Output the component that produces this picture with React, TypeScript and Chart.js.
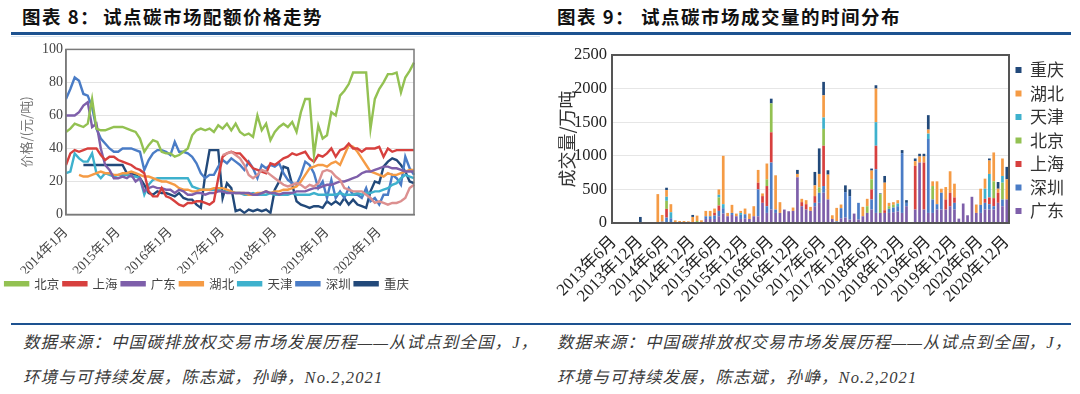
import React, { useEffect, useRef } from 'react';
import { Chart, registerables } from 'chart.js';

Chart.register(...registerables);

// ---------- helpers for category labels ----------
function monthRange(startYear: number, startMonth: number, count: number): string[] {
  const out: string[] = [];
  for (let k = 0; k < count; k++) {
    const m = startMonth - 1 + k;
    out.push(`${startYear + Math.floor(m / 12)}年${(m % 12) + 1}月`);
  }
  return out;
}

// ---------- Figure 8: allowance prices (元/吨), monthly 2014-01 .. 2020-09 ----------
const PRICE_MONTHS = monthRange(2014, 1, 81);
const PRICE_BEIJING = [50,52,55,54,53,55,70,52,51,51, 52,53,53,53,52,51,50,46,38,42, 45,44,38,37,37,35,36,38,40,48, 51,52,51,52,50,54,52,55,51,55, 50,48,49,47,60,51,55,45,50,53, 55,53,56,50,62,70,70,36,54,46, 48,62,60,72,75,79,86,86,86,86, 52,70,76,80,85,85,86,74,83,87, 92];
const PRICE_SHANGHAI = [30,37,39,38,39,40,40,40,36,33, 35,35,33,32,31,30,28,27,25,14, 11,11,16,11,10,8,6,5,7,7, 8,8,7,6,8,22,35,37,38,37, 37,34,31,28,27,26,25,31,30,32, 34,35,37,36,37,38,34,32,36,35, 37,40,35,39,40,43,40,40,38,40, 40,40,41,35,40,38,39,39,39,39, 39];
const PRICE_GUANGDONG = [60,60,60,62,66,68,53,55,40,30, 27,22,22,23,22,24,20,22,14,16, 17,16,16,15,15,13,15,14,12,12, 13,13,12,13,13,14,14,13,13,13, 13,13,13,12,12,13,14,13,13,12, 13,13,13,14,14,14,15,16,16,17, 18,18,19,20,20,21,22,23,25,26, 26,27,28,29,29,28,28,27,26,26, 26];
const PRICE_HUBEI = [null,null,null,24,23,23,24,25,26,25, 25,24,24,25,25,26,25,24,23,23, 22,21,20,20,19,18,16,15,15,14, 14,15,15,15,16,16,16,15,14,13, 13,13,12,12,13,13,14,13,14,14, 15,15,16,17,20,24,28,29,30,30, 29,31,32,30,36,42,41,38,34,30, 26,25,24,23,25,24,24,25,26,27, 27];
const PRICE_TIANJIN = [25,26,37,34,32,32,37,25,22,25, 24,23,24,24,24,23,23,22,12,18, 21,22,22,22,22,22,22,22,22,17, 16,15,15,15,15,15,14,14,14,13, 13,12,12,13,12,12,12,13,12,12, 12,12,13,12,12,12,12,13,12,12, 12,12,12,13,12,12,12,13,12,13, 13,14,14,15,16,18,19,22,24,23, 22];
const PRICE_SHENZHEN = [70,76,83,81,73,72,65,52,46,43, 40,38,38,40,40,40,39,38,27,33, 37,39,39,38,36,44,38,38,37,35, 31,25,22,24,24,29,33,31,34,32, 30,27,32,28,22,30,28,30,29,31, 25,21,19,18,24,32,30,25,16,20, 10,21,10,14,10,16,12,12,10,16, 8,10,6,12,12,24,22,18,35,28, 24];
const PRICE_CHONGQING = [null,null,null,null,30,30,30,30,30,30, 30,30,30,30,25,25,24,22,18,13, 12,14,13,13,12,11,13,10,9,9, 6,4,24,39,39,39,10,19,16,2, 3,1,3,2,3,2,3,1,15,20, 29,28,18,8,6,5,4,5,5,4, 8,6,8,6,10,6,9,6,5,4, 14,20,19,29,32,34,33,30,26,20, 19];
const PRICE_OTHER = [null,null,null,null,null,null,null,null,null,null, null,null,null,null,null,null,null,null,null,null, null,null,null,null,null,null,null,null,null,null, null,null,null,null,null,null,36,37,38,36, 34,30,24,22,24,27,26,24,22,20, 18,17,18,19,18,16,18,17,19,26, 27,26,23,21,16,15,14,14,14,12, 10,7,8,7,6,7,7,8,10,16, 18];
const PRICE_Y_TICKS = [0, 20, 40, 60, 80, 100];

// ---------- Figure 9: trading volume (万吨), monthly 2013-06 .. 2020-12 ----------
const VOL_MONTHS = monthRange(2013, 6, 91);
const VOL_GUANGDONG = [0,0,0,0,0,0,0,0,0,0, 0,0,0,0,0,0,0,0,0,0, 0,60,60,60,100,140,100,120,100,60, 70,60,100,100,300,150,200,150,150,200, 175,180,680,250,200,180,250,300,450,350, 60,0,70,80,50,140,50,100,150,200, 150,150,150,150,160,170,150,250,0,200, 900,200,150,150,200,200,200,250,200,65, 290,115,390,150,150,200,200,200,300,250, 350];
const VOL_SHENZHEN = [0,0,0,0,0,0,0,0,0,0, 0,20,80,70,0,0,0,0,0,0, 0,40,40,50,80,80,0,30,0,60, 60,0,0,400,0,100,700,50,0,0, 0,0,0,0,0,0,50,150,100,0, 0,25,150,380,350,0,250,0,0,150, 650,0,0,60,70,80,890,50,0,0, 0,0,1100,200,80,250,0,0,100,0, 0,0,0,0,120,100,80,50,0,100, 0];
const VOL_SHANGHAI = [0,0,0,0,0,0,0,0,0,0, 0,0,130,0,0,0,0,0,0,0, 0,0,0,40,80,0,0,0,0,0, 0,0,0,100,100,300,450,0,0,0, 0,0,0,60,80,0,100,0,600,0, 0,0,0,0,0,0,0,0,0,150, 350,0,40,0,0,0,0,0,0,650, 0,700,0,0,0,0,150,200,80,0, 0,0,0,0,0,60,100,120,150,0, 0];
const VOL_BEIJING = [0,0,0,0,0,0,0,0,0,0, 0,0,120,0,0,0,0,0,0,30, 0,0,0,0,120,0,0,0,0,0, 0,0,0,0,0,100,430,0,0,0, 0,0,0,0,0,0,0,80,250,0, 0,0,0,0,0,0,0,0,100,150, 0,280,0,40,40,0,0,0,0,0, 0,0,0,200,0,0,0,0,0,0, 0,0,0,0,0,0,0,250,0,250, 0];
const VOL_TIANJIN = [0,0,0,0,0,0,0,0,0,0, 0,0,60,90,0,0,0,0,0,0, 0,0,0,0,40,60,0,0,0,30, 0,0,0,0,0,0,0,0,0,0, 0,0,0,0,0,0,0,0,170,0, 0,0,0,0,0,0,0,0,0,0, 350,0,0,0,0,40,0,0,0,0, 0,0,80,0,0,0,0,0,0,0, 0,0,0,0,0,150,350,0,0,100, 0];
const VOL_HUBEI = [0,0,0,0,0,0,0,0,0,0, 430,100,100,120,40,30,30,25,90,80, 40,80,80,65,80,720,50,120,40,30, 85,80,150,190,40,235,0,510,160,0, 0,50,50,50,60,60,160,200,330,370, 55,200,55,0,0,0,0,140,110,130, 500,0,410,50,40,50,0,0,0,70, 90,90,60,70,340,60,185,320,205,0, 0,0,0,125,240,150,200,430,60,260, 300];
const VOL_CHONGQING = [0,0,0,0,0,0,90,0,0,0, 0,0,35,0,0,0,0,0,30,0, 0,0,0,0,0,0,0,0,0,0, 0,0,0,0,0,0,70,0,0,0, 0,0,60,0,0,0,200,380,200,65, 0,0,0,100,100,0,0,0,0,30, 50,10,100,0,0,0,45,40,0,40, 40,40,215,0,0,0,0,0,0,0, 0,0,0,0,0,0,30,0,100,0, 185];
const VOL_Y_TICKS = [0, 500, 1000, 1500, 2000, 2500];

const C = {
  beijing: '#93C152',
  shanghai: '#D7403E',
  guangdong: '#7E5FAA',
  hubei: '#F59B45',
  tianjin: '#3EB1CD',
  shenzhen: '#4A7CC6',
  chongqing: '#22497A',
  other: '#DC9090',
};

const SERIF = '"Liberation Serif", "Times New Roman", "Noto Sans CJK SC", serif';
const CJK = '"Noto Sans CJK SC", sans-serif';

const framePlugin = (color: string, width: number) => ({
  id: 'frame',
  afterDatasetsDraw(chart: any) {
    const { ctx, chartArea: a } = chart;
    ctx.save();
    ctx.strokeStyle = color;
    ctx.lineWidth = width;
    ctx.strokeRect(a.left, a.top, a.right - a.left, a.bottom - a.top);
    ctx.restore();
  },
});

function PriceChart() {
  const ref = useRef<HTMLCanvasElement | null>(null);
  useEffect(() => {
    const line = (label: string, data: any[], color: string) => ({
      label, data, borderColor: color, backgroundColor: color, borderWidth: 2.4,
      pointRadius: 0, tension: 0, spanGaps: false,
    });
    const chart = new Chart(ref.current as HTMLCanvasElement, {
      type: 'line',
      data: {
        labels: PRICE_MONTHS,
        datasets: [
          line('', PRICE_OTHER, C.other),
          line('北京', PRICE_BEIJING, C.beijing),
          line('上海', PRICE_SHANGHAI, C.shanghai),
          line('广东', PRICE_GUANGDONG, C.guangdong),
          line('湖北', PRICE_HUBEI, C.hubei),
          line('天津', PRICE_TIANJIN, C.tianjin),
          line('深圳', PRICE_SHENZHEN, C.shenzhen),
          line('重庆', PRICE_CHONGQING, C.chongqing),
        ],
      },
      options: {
        animation: false,
        responsive: false,
        maintainAspectRatio: false,
        layout: { padding: { top: 11, right: 18, bottom: 4, left: 0 } },
        plugins: {
          tooltip: { enabled: false },
          legend: {
            position: 'bottom',
            labels: {
              filter: (item: any) => item.text !== '',
              boxWidth: 23,
              boxHeight: 3,
              padding: 4,
              color: '#444',
              font: { family: CJK, size: 12.5 },
            },
          },
        },
        scales: {
          x: {
            type: 'category',
            offset: false,
            grid: { display: false },
            border: { color: '#7a7a7a', width: 1.5 },
            ticks: {
              autoSkip: false,
              minRotation: 45,
              maxRotation: 45,
              padding: 2,
              color: '#444',
              font: { family: SERIF, size: 13.5 },
              callback: (_v: any, i: number) => (i % 12 === 0 ? PRICE_MONTHS[i] : null),
            },
            afterFit: (s: any) => { s.height = 59; },
          },
          y: {
            min: 0,
            max: 100,
            afterBuildTicks: (s: any) => { s.ticks = PRICE_Y_TICKS.map((v) => ({ value: v })); },
            grid: { color: '#e3e3e3', lineWidth: 1, drawTicks: false },
            border: { color: '#7a7a7a', width: 1.5 },
            ticks: { padding: 3, color: '#444', font: { family: SERIF, size: 14 }, callback: (v: any) => String(v) },
            title: {
              display: true,
              text: '价格/(元/吨)',
              color: '#777',
              font: { family: CJK, size: 13 },
              padding: { top: 18, bottom: 0 },
            },
            afterFit: (s: any) => { s.width = 66; },
          },
        },
      },
      plugins: [framePlugin('#7a7a7a', 1.5)],
    } as any);
    return () => chart.destroy();
  }, []);
  return <canvas ref={ref} width={432} height={266} style={{ position: 'absolute', left: 0, top: 38, width: 432, height: 266 }} />;
}

function VolumeChart() {
  const ref = useRef<HTMLCanvasElement | null>(null);
  useEffect(() => {
    const bar = (label: string, data: number[], color: string) => ({
      label, data, backgroundColor: color, borderWidth: 0, stack: 's',
    });
    const chart = new Chart(ref.current as HTMLCanvasElement, {
      type: 'bar',
      data: {
        labels: VOL_MONTHS,
        datasets: [
          bar('广东', VOL_GUANGDONG, C.guangdong),
          bar('深圳', VOL_SHENZHEN, C.shenzhen),
          bar('上海', VOL_SHANGHAI, C.shanghai),
          bar('北京', VOL_BEIJING, C.beijing),
          bar('天津', VOL_TIANJIN, C.tianjin),
          bar('湖北', VOL_HUBEI, C.hubei),
          bar('重庆', VOL_CHONGQING, C.chongqing),
        ],
      },
      options: {
        animation: false,
        responsive: false,
        maintainAspectRatio: false,
        datasets: { bar: { barPercentage: 0.62, categoryPercentage: 1 } },
        layout: { padding: { top: 17, right: 2, bottom: 0, left: 0 } },
        plugins: {
          tooltip: { enabled: false },
          legend: {
            position: 'right',
            align: 'start',
            reverse: true,
            labels: {
              boxWidth: 6,
              boxHeight: 6,
              padding: 6.5,
              color: '#333',
              font: { family: CJK, size: 17 },
            },
          },
        },
        scales: {
          x: {
            stacked: true,
            grid: { display: false },
            border: { color: '#555', width: 2 },
            ticks: {
              autoSkip: false,
              minRotation: 45,
              maxRotation: 45,
              padding: 1,
              color: '#222',
              font: { family: SERIF, size: 17 },
              callback: (_v: any, i: number) => (i % 6 === 0 ? VOL_MONTHS[i] : null),
            },
            afterFit: (s: any) => { s.height = 80; },
          },
          y: {
            stacked: true,
            min: 0,
            max: 2500,
            afterBuildTicks: (s: any) => { s.ticks = VOL_Y_TICKS.map((v) => ({ value: v })); },
            grid: { color: '#e6e6e6', lineWidth: 1, drawTicks: false },
            border: { color: '#555', width: 2 },
            ticks: { padding: 5, color: '#222', font: { family: SERIF, size: 16.5 }, callback: (v: any) => String(v) },
            title: {
              display: true,
              text: '成交量/万吨',
              color: '#333',
              font: { family: CJK, size: 18 },
              padding: { top: 16, bottom: 0 },
            },
            afterFit: (s: any) => { s.width = 72; },
          },
        },
      },
      plugins: [framePlugin('#555', 2)],
    } as any);
    return () => chart.destroy();
  }, []);
  return <canvas ref={ref} width={536} height={265} style={{ position: 'absolute', left: 540, top: 38, width: 536, height: 265 }} />;
}

const titleStyle: React.CSSProperties = {
  position: 'absolute', top: 5, fontFamily: CJK, fontWeight: 700, fontSize: 18.5,
  lineHeight: '22px', color: '#111', letterSpacing: 1.5, whiteSpace: 'nowrap',
};
const srcStyle: React.CSSProperties = {
  position: 'absolute', fontFamily: SERIF, fontStyle: 'italic', fontSize: 16.5,
  lineHeight: '20px', color: '#3a3a3a', letterSpacing: 1.1, whiteSpace: 'nowrap',
};

export default function App() {
  return (
    <div style={{ position: 'absolute', left: 0, top: 0, width: 1080, height: 394, background: '#fff', overflow: 'hidden' }}>
      <div style={{ ...titleStyle, left: 22 }}>图表 8：</div>
      <div style={{ ...titleStyle, left: 103 }}>试点碳市场配额价格走势</div>
      <div style={{ ...titleStyle, left: 557 }}>图表 9：</div>
      <div style={{ ...titleStyle, left: 641 }}>试点碳市场成交量的时间分布</div>
      <div style={{ position: 'absolute', left: 11, top: 32, width: 1060, height: 2.5, background: '#1D5290' }} />
      <div style={{ position: 'absolute', left: 11, top: 36, width: 529, height: 1, background: '#d4e3f1' }} />
      <PriceChart />
      <VolumeChart />
      <div style={{ position: 'absolute', left: 11, top: 322.5, width: 1060, height: 2.5, background: '#1D5290' }} />
      <div style={{ ...srcStyle, left: 23, top: 333 }}>数据来源：中国碳排放权交易市场发展历程——从试点到全国，J，</div>
      <div style={{ ...srcStyle, left: 23, top: 368 }}>环境与可持续发展，陈志斌，孙峥，No.2,2021</div>
      <div style={{ ...srcStyle, left: 557, top: 333 }}>数据来源：中国碳排放权交易市场发展历程——从试点到全国，J，</div>
      <div style={{ ...srcStyle, left: 557, top: 368 }}>环境与可持续发展，陈志斌，孙峥，No.2,2021</div>
    </div>
  );
}
